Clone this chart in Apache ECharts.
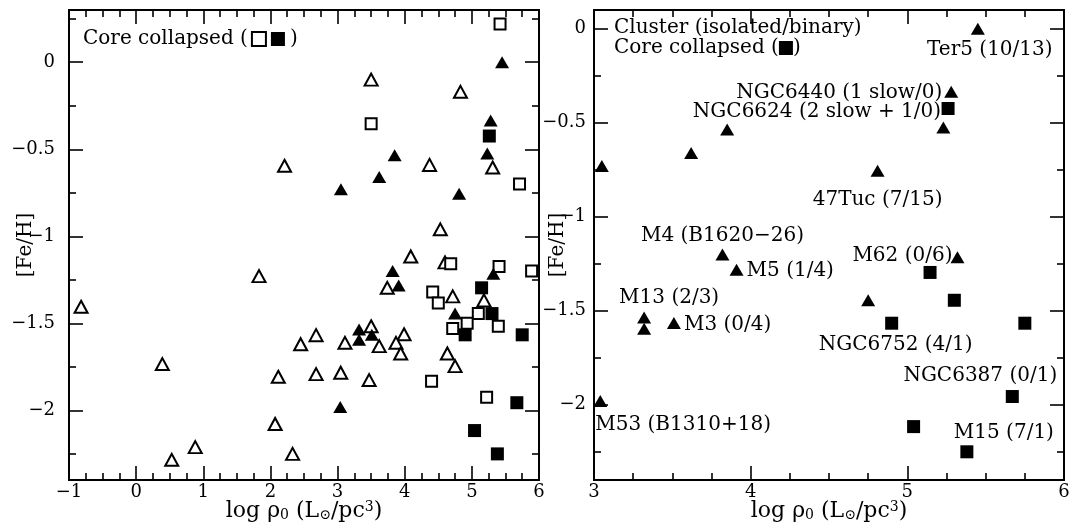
<!DOCTYPE html>
<html>
<head>
<meta charset="utf-8">
<script src="https://cdn.jsdelivr.net/npm/echarts@6.0.0/dist/echarts.min.js"></script>
<style>
  html, body { margin: 0; padding: 0; background: #fff; }
  #chart { width: 1070px; height: 523px; }
</style>
</head>
<body>
<div id="chart"></div>
<script>
// Globular clusters: central luminosity density (log rho_0) against metallicity [Fe/H]

// Clusters without known pulsars: [log rho_0, [Fe/H]]
const noPsrClusters = [
  [3.50, -0.10], [4.83, -0.17], [2.21, -0.595], [4.37, -0.59], [5.31, -0.605],
  [4.53, -0.96], [4.09, -1.116], [4.60, -1.15], [3.74, -1.296], [4.715, -1.345],
  [5.18, -1.368], [1.83, -1.229], [-0.82, -1.405], [0.39, -1.734], [0.53, -2.284],
  [0.88, -2.211], [2.07, -2.078], [2.33, -2.25], [2.68, -1.568], [2.45, -1.62],
  [3.11, -1.612], [3.50, -1.517], [3.62, -1.631], [3.99, -1.563], [3.87, -1.612],
  [3.94, -1.673], [4.635, -1.673], [4.75, -1.746], [2.117, -1.807], [2.68, -1.792],
  [3.047, -1.784], [3.47, -1.826]
];

// Core-collapsed clusters without known pulsars
const noPsrCoreCollapsed = [
  [5.42, 0.22], [3.50, -0.353], [5.71, -0.70], [4.685, -1.158], [5.405, -1.173],
  [5.89, -1.20], [4.417, -1.32], [4.50, -1.383], [5.096, -1.444], [4.93, -1.50],
  [5.394, -1.517], [4.715, -1.53], [4.40, -1.832], [5.22, -1.925]
];

// Clusters hosting pulsars
const psrClusters = [
  [5.45, 0.00], [5.28, -0.335], [5.23, -0.525], [3.85, -0.535], [3.62, -0.66],
  [3.05, -0.73], [4.81, -0.755], [3.82, -1.20], [5.32, -1.215], [3.91, -1.282],
  [4.75, -1.444], [3.32, -1.535], [3.32, -1.595], [3.51, -1.565], [3.04, -1.98]
];
const psrClusterNames = [
  'Ter5 (10/13)', 'NGC6440 (1 slow/0)', '', '', '',
  '', '47Tuc (7/15)', 'M4 (B1620\u221226)', 'M62 (0/6)', 'M5 (1/4)',
  '', 'M13 (2/3)', '', 'M3 (0/4)', 'M53 (B1310+18)'
];

// Core-collapsed clusters hosting pulsars
const psrCoreCollapsed = [
  [5.26, -0.424], [5.145, -1.296], [5.30, -1.444], [4.90, -1.566],
  [5.75, -1.566], [5.67, -1.956], [5.04, -2.116], [5.38, -2.25]
];
const psrCoreCollapsedNames = [
  'NGC6624 (2 slow + 1/0)', '', '', 'NGC6752 (4/1)',
  '', 'NGC6387 (0/1)', '', 'M15 (7/1)'
];

// Axis ranges and tick values
const leftXRange = [-1, 6];
const rightXRange = [3, 6];
const leftYRange = [-2.4, 0.3];
const rightYRange = [-2.4, 0.1];
const yMajorTicks = [-2, -1.5, -1, -0.5, 0];
const yMinorTicks = [-2.25, -1.75, -1.25, -0.75, -0.25, 0.25];

// ---- styling ----
const FONT = 'DejaVu Serif';
const INK = '#000';

// label anchor per cluster name: [align, dx, dy] relative to the marker centre
const labelPlacement = {
  'Ter5 (10/13)': ['center', 12, 21],
  'NGC6440 (1 slow/0)': ['right', -9, 1],
  'NGC6624 (2 slow + 1/0)': ['right', -7, 3],
  '47Tuc (7/15)': ['center', 0, 29],
  'M4 (B1620\u221226)': ['center', 0, -19],
  'M62 (0/6)': ['right', -5, -1],
  'M5 (1/4)': ['left', 10, 1],
  'M13 (2/3)': ['center', 25, -20],
  'M3 (0/4)': ['left', 10, 2],
  'NGC6752 (4/1)': ['center', 4, 22],
  'NGC6387 (0/1)': ['center', -32, -21],
  'M53 (B1310+18)': ['left', -5, 24],
  'M15 (7/1)': ['center', 37, -19]
};

const fmt = v => (v < 0 ? '\u2212' + String(-v) : String(v));

const xName = '{a|log }{a|\u03c1}{s|0}{a| (L}{s|\u2299}{a|/pc}{p|3}{a|)}';
const xNameStyle = {
  color: INK, fontFamily: FONT, fontSize: 22,
  rich: {
    a: { color: INK, fontFamily: FONT, fontSize: 22 },
    s: { color: INK, fontFamily: FONT, fontSize: 14, verticalAlign: 'bottom' },
    p: { color: INK, fontFamily: FONT, fontSize: 14, verticalAlign: 'top' }
  }
};

function xAxis(grid, position, range, withLabels) {
  return {
    type: 'value', gridIndex: grid, position, min: range[0], max: range[1], interval: 1,
    axisLine: { show: true, onZero: false, lineStyle: { color: INK, width: 2 } },
    axisTick: { show: true, inside: true, length: 14, lineStyle: { color: INK, width: 1.6 } },
    minorTick: { show: true, splitNumber: 4, length: 7, lineStyle: { color: INK, width: 1.6 } },
    splitLine: { show: false }, minorSplitLine: { show: false },
    axisLabel: {
      show: withLabels, margin: 3, color: INK, fontFamily: FONT, fontSize: 18,
      formatter: fmt, showMinLabel: true, showMaxLabel: true, hideOverlap: false
    },
    name: withLabels ? xName : '', nameLocation: 'middle', nameGap: 20,
    nameTextStyle: xNameStyle, nameMoveOverlap: false
  };
}

function yAxis(grid, position, range, ticks, tickLen, labelMargin, nameGap) {
  const labelled = labelMargin != null;
  const inRange = ticks.filter(t => t >= range[0] && t <= range[1]);
  return {
    type: 'value', gridIndex: grid, position, min: range[0], max: range[1],
    axisLine: { show: true, onZero: false, lineStyle: { color: INK, width: 2 } },
    axisTick: { show: true, inside: true, length: tickLen, customValues: inRange,
                lineStyle: { color: INK, width: 1.6 } },
    minorTick: { show: false }, splitLine: { show: false },
    axisLabel: labelled
      ? { show: true, margin: labelMargin, customValues: inRange, formatter: fmt,
          color: INK, fontFamily: FONT, fontSize: 18, hideOverlap: false }
      : { show: false },
    name: labelled ? '[Fe/H]' : '', nameLocation: 'middle', nameRotate: 90,
    nameGap: nameGap || 0, nameMoveOverlap: false,
    nameTextStyle: { color: INK, fontFamily: FONT, fontSize: 20 }
  };
}

function labelled(points, names) {
  return points.map((p, i) => {
    const n = names[i];
    if (!n) return p;
    const [align, dx, dy] = labelPlacement[n];
    return {
      value: p,
      label: {
        show: true, formatter: n, position: 'inside', align, verticalAlign: 'middle',
        offset: [dx, dy], color: INK, fontFamily: FONT, fontSize: 20,
        textBorderWidth: 0, opacity: 1
      }
    };
  });
}

const base = {
  type: 'scatter', silent: true, animation: false, clip: false,
  emphasis: { disabled: true }
};
const openTri = { symbol: 'triangle', symbolSize: [13, 12],
                  itemStyle: { color: '#fff', borderColor: INK, borderWidth: 2, opacity: 1 } };
const openSq = { symbol: 'rect', symbolSize: 11,
                 itemStyle: { color: '#fff', borderColor: INK, borderWidth: 2, opacity: 1 } };
const fillTri = { symbol: 'triangle', symbolSize: [14, 12], itemStyle: { color: INK, opacity: 1 } };
const fillSq = { symbol: 'rect', symbolSize: 13, itemStyle: { color: INK, opacity: 1 } };

const legendRich = {
  t: { fontFamily: FONT, fontSize: 20, fill: INK },
  o: { width: 12, height: 12, backgroundColor: '#fff', borderColor: INK, borderWidth: 2 },
  g: { width: 6 },
  h: { width: 5 },
  f: { width: 14, height: 14, backgroundColor: INK }
};

const chart = echarts.init(document.getElementById('chart'), null, { renderer: 'canvas' });
chart.setOption({
  backgroundColor: '#fff',
  animation: false,
  grid: [
    { left: 69, top: 10, width: 470, height: 470, outerBoundsMode: 'none', containLabel: false },
    { left: 594, top: 10, width: 470, height: 470, outerBoundsMode: 'none', containLabel: false }
  ],
  xAxis: [
    xAxis(0, 'bottom', leftXRange, true),
    xAxis(0, 'top', leftXRange, false),
    xAxis(1, 'bottom', rightXRange, true),
    xAxis(1, 'top', rightXRange, false)
  ],
  yAxis: [
    yAxis(0, 'left', leftYRange, yMajorTicks, 14, 14, 33),
    yAxis(0, 'left', leftYRange, yMinorTicks, 7),
    yAxis(0, 'right', leftYRange, yMajorTicks, 14),
    yAxis(0, 'right', leftYRange, yMinorTicks, 7),
    yAxis(1, 'left', rightYRange, yMajorTicks, 14, 8, 26),
    yAxis(1, 'left', rightYRange, yMinorTicks, 7),
    yAxis(1, 'right', rightYRange, yMajorTicks, 14),
    yAxis(1, 'right', rightYRange, yMinorTicks, 7)
  ],
  series: [
    Object.assign({}, base, openTri, { xAxisIndex: 0, yAxisIndex: 0, data: noPsrClusters }),
    Object.assign({}, base, openSq, { xAxisIndex: 0, yAxisIndex: 0, data: noPsrCoreCollapsed }),
    Object.assign({}, base, fillTri, { xAxisIndex: 0, yAxisIndex: 0, data: psrClusters }),
    Object.assign({}, base, fillSq, { xAxisIndex: 0, yAxisIndex: 0, data: psrCoreCollapsed }),
    Object.assign({}, base, fillTri, { xAxisIndex: 2, yAxisIndex: 4,
      data: labelled(psrClusters, psrClusterNames) }),
    Object.assign({}, base, fillSq, { xAxisIndex: 2, yAxisIndex: 4,
      data: labelled(psrCoreCollapsed, psrCoreCollapsedNames) })
  ],
  graphic: [
    { type: 'text', x: 83, y: 39, silent: true,
      style: { text: '{t|Core collapsed (}{h| }{o| }{g| }{f| }{h| }{t|)}', verticalAlign: 'middle', rich: legendRich } },
    { type: 'text', x: 614, y: 28, silent: true,
      style: { text: 'Cluster (isolated/binary)', fontFamily: FONT, fontSize: 20, fill: INK, verticalAlign: 'middle' } },
    { type: 'text', x: 614, y: 48, silent: true,
      style: { text: '{t|Core collapsed (}{f| }{t|)}', verticalAlign: 'middle', rich: legendRich } }
  ]
});
</script>
</body>
</html>
